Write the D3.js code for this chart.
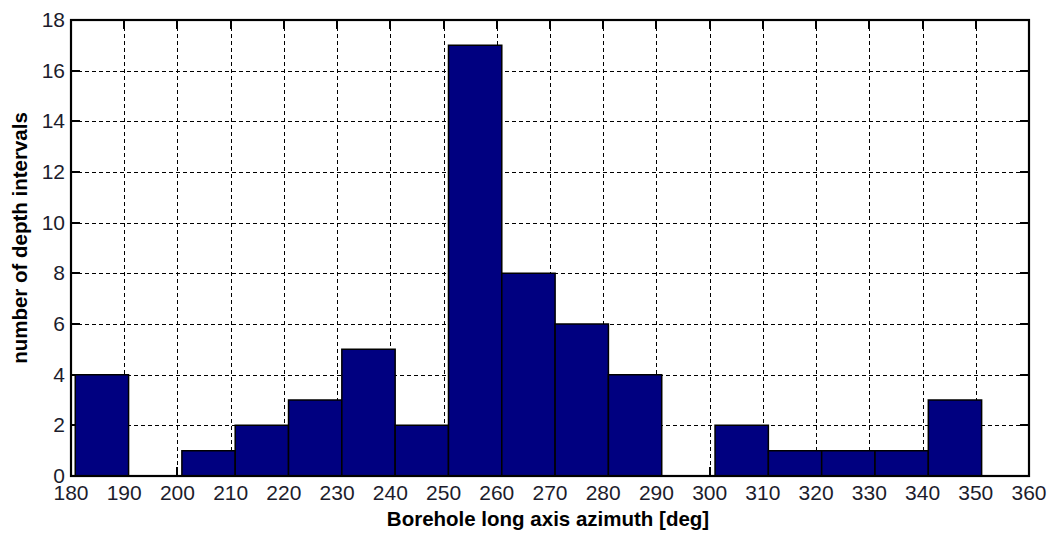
<!DOCTYPE html>
<html>
<head>
<meta charset="utf-8">
<script src="https://cdn.jsdelivr.net/npm/d3@7"></script>
<style>
  html, body { margin: 0; padding: 0; background: #fff; }
  svg { display: block; }
  text { font-family: "Liberation Sans", Arial, sans-serif; }
</style>
</head>
<body>
<svg id="chart" width="1054" height="536"></svg>
<script>
// Histogram of borehole long-axis azimuths
const binCounts = [4, 0, 1, 2, 3, 5, 2, 17, 8, 6, 4, 0, 2, 1, 1, 1, 3];
const binMin = 180.8;   // left edge of the first bin [deg]
const binMax = 351.1;   // right edge of the last bin [deg]
const xTicks = [180, 190, 200, 210, 220, 230, 240, 250, 260, 270, 280, 290, 300, 310, 320, 330, 340, 350, 360];
const yTicks = [0, 2, 4, 6, 8, 10, 12, 14, 16, 18];
const xDomain = [180, 360];
const yDomain = [0, 18];
const xTitle = "Borehole long axis azimuth [deg]";
const yTitle = "number of depth intervals";

const svg = d3.select("#chart");
const m = { left: 71, top: 20, right: 1029, bottom: 476 };

const x = d3.scaleLinear().domain(xDomain).range([m.left, m.right]);
const y = d3.scaleLinear().domain(yDomain).range([m.bottom, m.top]);

const binW = (binMax - binMin) / binCounts.length;
const bins = binCounts.map((c, i) => ({ x0: binMin + i * binW, x1: binMin + (i + 1) * binW, n: c }));

// dashed grid
const grid = svg.append("g")
  .attr("stroke", "#000").attr("stroke-width", 1).attr("stroke-dasharray", "4,3")
  .attr("shape-rendering", "crispEdges");
grid.selectAll("line.v").data(xTicks.slice(1, -1)).join("line")
  .attr("x1", d => Math.round(x(d)) + 0.5).attr("x2", d => Math.round(x(d)) + 0.5)
  .attr("y1", m.top).attr("y2", m.bottom);
grid.selectAll("line.h").data(yTicks.slice(1, -1)).join("line")
  .attr("x1", m.left).attr("x2", m.right)
  .attr("y1", d => Math.round(y(d)) + 0.5).attr("y2", d => Math.round(y(d)) + 0.5);

// inward ticks on all four sides
const tl = 9;
const ticks = svg.append("g").attr("stroke", "#000").attr("stroke-width", 2)
  .attr("shape-rendering", "crispEdges");
xTicks.forEach(t => {
  ticks.append("line").attr("x1", x(t)).attr("x2", x(t)).attr("y1", m.bottom).attr("y2", m.bottom - tl);
  ticks.append("line").attr("x1", x(t)).attr("x2", x(t)).attr("y1", m.top).attr("y2", m.top + tl);
});
yTicks.forEach(t => {
  ticks.append("line").attr("x1", m.left).attr("x2", m.left + tl).attr("y1", y(t)).attr("y2", y(t));
  ticks.append("line").attr("x1", m.right).attr("x2", m.right - tl).attr("y1", y(t)).attr("y2", y(t));
});

// bars (empty bins collapse to a line on the baseline)
svg.append("g").selectAll("path").data(bins).join("path")
  .attr("d", d => {
    const p = d3.path();
    p.moveTo(x(d.x0), y(0));
    p.lineTo(x(d.x0), y(d.n));
    p.lineTo(x(d.x1), y(d.n));
    p.lineTo(x(d.x1), y(0));
    p.closePath();
    return p.toString();
  })
  .attr("fill", "#000080")
  .attr("stroke", "#000")
  .attr("stroke-width", 1.5);

// axes box
svg.append("rect")
  .attr("x", m.left).attr("y", m.top)
  .attr("width", m.right - m.left).attr("height", m.bottom - m.top)
  .attr("fill", "none").attr("stroke", "#000").attr("stroke-width", 2.2);

// tick labels
svg.append("g").selectAll("text").data(xTicks).join("text")
  .attr("x", d => x(d)).attr("y", 500)
  .attr("text-anchor", "middle")
  .attr("font-size", 21).attr("fill", "#1c1c2c")
  .text(d => d);
svg.append("g").selectAll("text").data(yTicks).join("text")
  .attr("x", 65).attr("y", d => y(d) + 7)
  .attr("text-anchor", "end")
  .attr("font-size", 21).attr("fill", "#1c1c2c")
  .text(d => d);

// axis titles
svg.append("text")
  .attr("x", 548).attr("y", 526)
  .attr("text-anchor", "middle")
  .attr("font-size", 20.5).attr("font-weight", "bold").attr("fill", "#000")
  .text(xTitle);
svg.append("text")
  .attr("transform", "translate(27,238) rotate(-90)")
  .attr("text-anchor", "middle")
  .attr("font-size", 20.5).attr("font-weight", "bold").attr("fill", "#000")
  .text(yTitle);
</script>
</body>
</html>
